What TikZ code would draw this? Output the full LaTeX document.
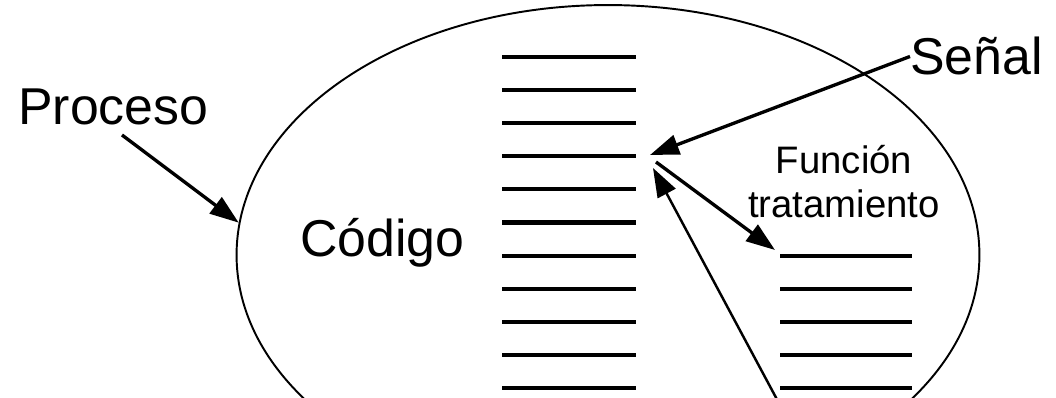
\documentclass[tikz,border=0pt]{standalone}
\usepackage{fontspec}
\setmainfont{Liberation Sans}
\usetikzlibrary{arrows.meta,shapes.geometric}
\begin{document}
\begin{tikzpicture}[x=0.02cm,y=-0.02cm,
  linea/.style={line width=2.3pt},
  flecha/.style={line width=1.9pt,-{Triangle[length=0.58cm,width=0.4cm]}},
  rotulo/.style={inner sep=0pt,font=\fontsize{29.5}{35}\selectfont}]
  \clip (0,0) rectangle (1056,398);
  \node[draw,ellipse,line width=1.1pt,inner sep=0pt,
    minimum width=14.86cm,minimum height=10cm] (proc) at (608,255) {};
  % lineas de codigo
  \foreach \i in {0,...,10}
    \draw[linea] (502,57+33.1*\i) -- (636,57+33.1*\i);
  \foreach \i in {6,...,10}
    \draw[linea] (780,57+33.1*\i) -- (912,57+33.1*\i);
  \node[rotulo,anchor=base west] (proceso) at (18,125) {Proceso};
  \node[rotulo,anchor=base west] (codigo) at (300,257) {Código};
  \node[rotulo,anchor=base west] (senal) at (910,75) {Señal};
  \node[rotulo,font=\fontsize{21.8}{25}\selectfont,align=center,anchor=north]
    (funcion) at (844,145) {Función\\tratamiento};
  \coordinate (pp) at (122,135);
  \coordinate (llega) at (650,155);
  \coordinate (salto) at (656,162);
  \coordinate (manejo) at (775,250);
  \coordinate (vuelta) at (653,168);
  \coordinate (fin) at (788,420);
  \draw[flecha] (pp) -- (proc.175);
  \draw[flecha] (senal.west) -- (llega);
  \draw[flecha] (salto) -- (manejo);
  \draw[flecha,line width=1.4pt] (fin) -- (vuelta);
\end{tikzpicture}
\end{document}
